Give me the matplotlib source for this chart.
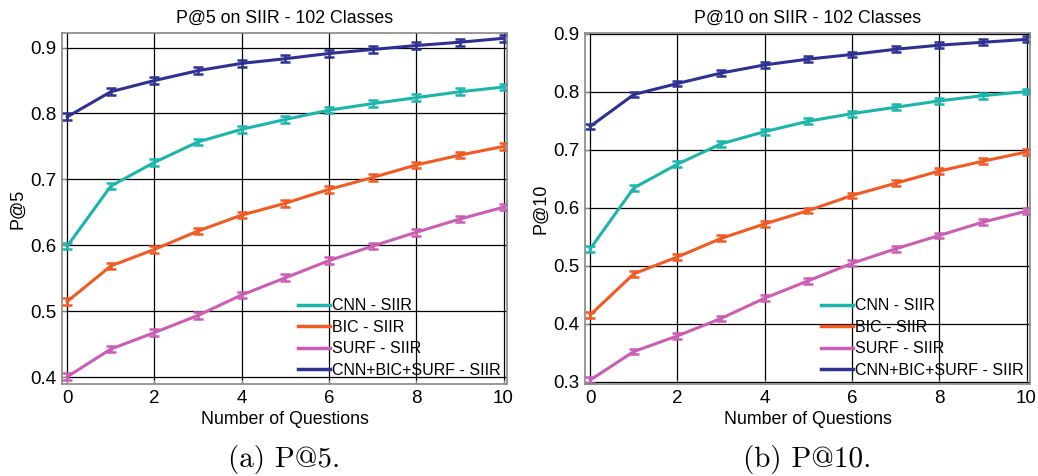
import matplotlib
matplotlib.use("Agg")
import matplotlib.pyplot as plt
from matplotlib.lines import Line2D

questions = list(range(11))

p5_cnn = [0.599, 0.690, 0.726, 0.757, 0.776, 0.791, 0.805, 0.815, 0.824, 0.833, 0.840]
p5_bic = [0.515, 0.569, 0.594, 0.622, 0.646, 0.664, 0.685, 0.703, 0.722, 0.737, 0.750]
p5_surf = [0.401, 0.443, 0.468, 0.494, 0.525, 0.551, 0.577, 0.599, 0.620, 0.640, 0.658]
p5_all = [0.795, 0.833, 0.850, 0.865, 0.876, 0.883, 0.891, 0.897, 0.903, 0.908, 0.914]

p10_cnn = [0.529, 0.634, 0.675, 0.710, 0.731, 0.749, 0.762, 0.773, 0.784, 0.793, 0.800]
p10_bic = [0.415, 0.486, 0.515, 0.547, 0.572, 0.595, 0.621, 0.642, 0.663, 0.680, 0.696]
p10_surf = [0.303, 0.352, 0.379, 0.409, 0.444, 0.474, 0.504, 0.529, 0.552, 0.575, 0.594]
p10_all = [0.740, 0.795, 0.814, 0.832, 0.846, 0.856, 0.864, 0.873, 0.880, 0.885, 0.890]

err = 0.005

labels = ["CNN - SIIR", "BIC - SIIR", "SURF - SIIR", "CNN+BIC+SURF - SIIR"]
colors = ["#1bb5ac", "#f15a22", "#cc5db5", "#2e3192"]

plt.rcParams['font.family'] = ['Liberation Sans', 'DejaVu Sans']

fig = plt.figure(figsize=(10.38, 4.76), dpi=100)

panels = [
    dict(rect=[62/1038, 1-384/476, 445/1038, 351/476],
         series=[p5_cnn, p5_bic, p5_surf, p5_all],
         ylim=(0.39, 0.922), yticks=[0.4, 0.5, 0.6, 0.7, 0.8, 0.9],
         title="P@5 on SIIR - 102 Classes", ylabel="P@5", caption="(a) P@5."),
    dict(rect=[585/1038, 1-384/476, 445/1038, 351/476],
         series=[p10_cnn, p10_bic, p10_surf, p10_all],
         ylim=(0.296, 0.901), yticks=[0.3, 0.4, 0.5, 0.6, 0.7, 0.8, 0.9],
         title="P@10 on SIIR - 102 Classes", ylabel="P@10", caption="(b) P@10."),
]

for p in panels:
    ax = fig.add_axes(p["rect"])
    for s, c, lab in zip(p["series"], colors, labels):
        ax.errorbar(questions, s, yerr=err, color=c, lw=2.2, elinewidth=1.8,
                    capsize=3.5, capthick=1.8, label=lab)
    ax.set_xlim(-0.12, 10.08)
    ax.set_ylim(*p["ylim"])
    ax.set_xticks([0, 2, 4, 6, 8, 10])
    ax.set_yticks(p["yticks"])
    ax.set_yticklabels([f"{v:.1f}" for v in p["yticks"]])
    ax.grid(True, color="black", lw=0.9)
    ax.set_axisbelow(True)
    for sp in ax.spines.values():
        sp.set_color("#888888")
        sp.set_linewidth(1.2)
    ax.tick_params(labelsize=13.5, length=3, color="#888888", direction="in", pad=4)
    ax.set_title(p["title"], fontsize=12.8, pad=7)
    ax.set_xlabel("Number of Questions", fontsize=12.8, labelpad=3)
    ax.set_ylabel(p["ylabel"], fontsize=13, labelpad=3)
    handles = [Line2D([], [], color=c, lw=2.5) for c in colors]
    leg = ax.legend(handles, labels, loc="lower right", fontsize=11.5, frameon=True,
                    fancybox=False, framealpha=0, edgecolor="black", handlelength=2.0,
                    handletextpad=0.1, labelspacing=0.4, borderpad=0.3,
                    borderaxespad=0.1)
    leg.get_frame().set_linewidth(1.0)
    cx = p["rect"][0] + p["rect"][2] / 2
    fig.text(cx, 1 - 460/476, p["caption"], ha="center", va="center",
             fontsize=21, family=["cmr10", "DejaVu Serif"])

fig.savefig("out.png", dpi=100)
